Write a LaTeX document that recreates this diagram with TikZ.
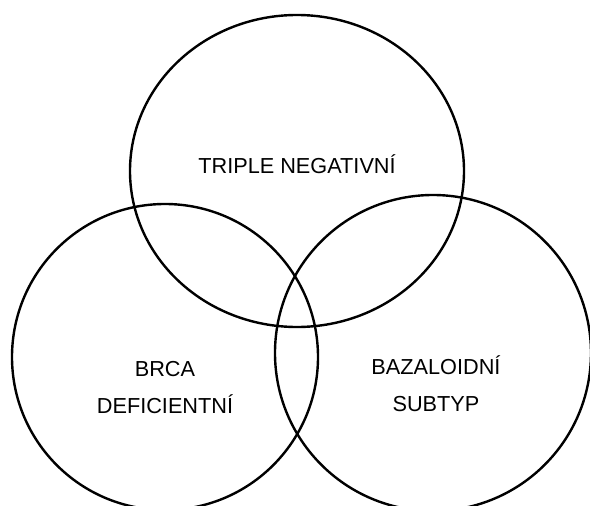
\documentclass[tikz,border=0pt]{standalone}
\usepackage{fontspec}
\setmainfont{Liberation Sans}
\begin{document}
\begin{tikzpicture}[x=1pt,y=-1pt,
  setline/.style={draw=black,line width=2.4pt},
  setlabel/.style={align=center,font=\fontsize{21.7}{37}\selectfont,text height=15.5pt,text depth=0pt,inner sep=0pt}]
\useasboundingbox (0,0) rectangle (590,506);
\clip (0,0) rectangle (590,506);
\fill[white] (0,0) rectangle (590,506);
\draw[setline] (297,171) ellipse [x radius=167, y radius=156];
\draw[setline] (165,357) circle [radius=153];
\draw[setline] (433,353) circle [radius=158];
\node[setlabel] (tn) at (297,165.5) {TRIPLE NEGATIVNÍ};
\node[setlabel] (brca) at (165,406) {BRCA\\DEFICIENTNÍ};
\node[setlabel] (baz) at (436,403.5) {BAZALOIDNÍ\\SUBTYP};
\end{tikzpicture}
\end{document}
